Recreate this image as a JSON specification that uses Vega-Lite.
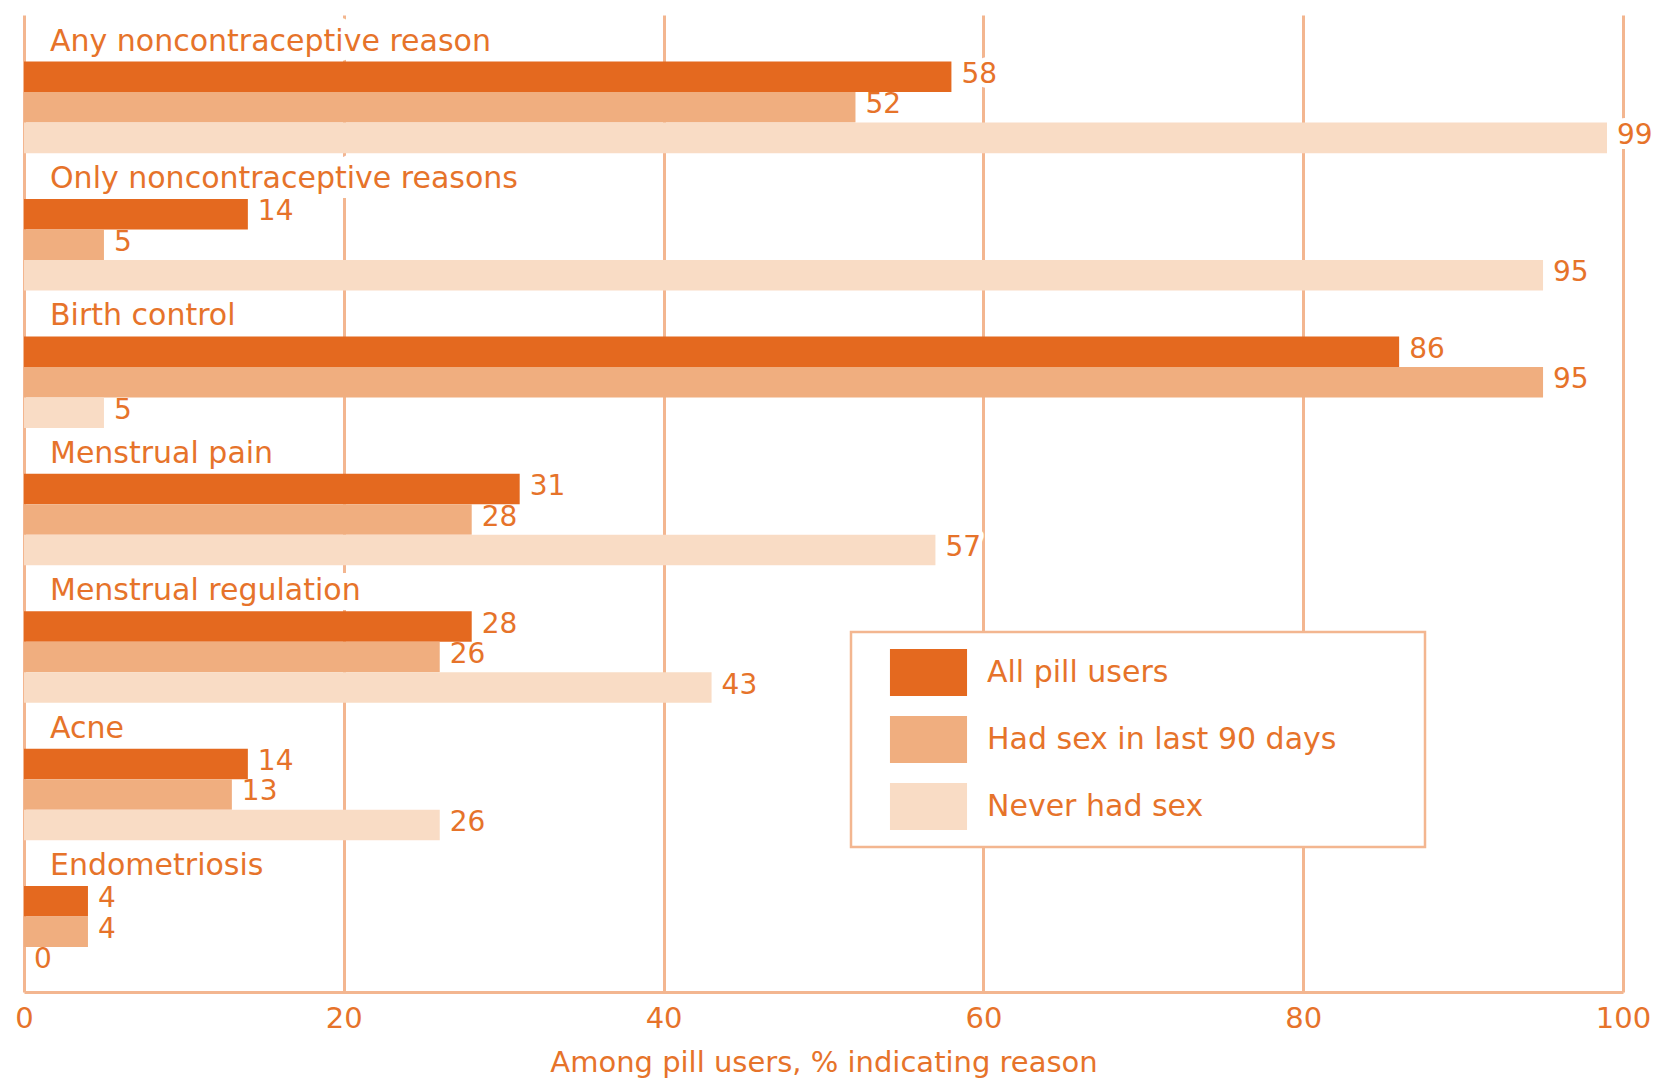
{
  "$schema": "https://vega.github.io/schema/vega-lite/v6.json",
  "width": 1599,
  "height": 977,
  "autosize": {"type": "none"},
  "padding": {"left": 24, "top": 15, "right": 38, "bottom": 86},
  "background": "white",
  "config": {
    "view": {"stroke": null},
    "font": "DejaVu Sans",
    "scale": {"offsetBandPaddingInner": 0, "offsetBandPaddingOuter": 0},
    "axisX": {
      "grid": true,
      "gridColor": "#F3B690",
      "gridWidth": 3,
      "domainColor": "#F3B690",
      "domainWidth": 3,
      "ticks": false,
      "labelColor": "#E6732A",
      "labelFontSize": 29,
      "labelPadding": 12,
      "labelFlush": false,
      "titleColor": "#E6732A",
      "titleFontSize": 29,
      "titleFontWeight": "normal",
      "titlePadding": 15
    },
    "legend": {
      "orient": "none",
      "legendX": 827,
      "legendY": 617,
      "padding": 17,
      "strokeColor": "#F3B690",
      "strokeWidth": 2.5,
      "fillColor": "white",
      "symbolType": "M-1.64,-1H1.64V1H-1.64Z M20.4,0",
      "symbolSize": 2209,
      "symbolOpacity": 1,
      "symbolStrokeWidth": 0,
      "symbolOffset": 37,
      "labelFontSize": 30,
      "labelColor": "#E6732A",
      "labelOffset": 35,
      "rowPadding": 20,
      "labelLimit": 0
    }
  },
  "data": {
    "values": [
      {"reason": "Any noncontraceptive reason", "group": "All pill users", "value": 58},
      {"reason": "Any noncontraceptive reason", "group": "Had sex in last 90 days", "value": 52},
      {"reason": "Any noncontraceptive reason", "group": "Never had sex", "value": 99},
      {"reason": "Only noncontraceptive reasons", "group": "All pill users", "value": 14},
      {"reason": "Only noncontraceptive reasons", "group": "Had sex in last 90 days", "value": 5},
      {"reason": "Only noncontraceptive reasons", "group": "Never had sex", "value": 95},
      {"reason": "Birth control", "group": "All pill users", "value": 86},
      {"reason": "Birth control", "group": "Had sex in last 90 days", "value": 95},
      {"reason": "Birth control", "group": "Never had sex", "value": 5},
      {"reason": "Menstrual pain", "group": "All pill users", "value": 31},
      {"reason": "Menstrual pain", "group": "Had sex in last 90 days", "value": 28},
      {"reason": "Menstrual pain", "group": "Never had sex", "value": 57},
      {"reason": "Menstrual regulation", "group": "All pill users", "value": 28},
      {"reason": "Menstrual regulation", "group": "Had sex in last 90 days", "value": 26},
      {"reason": "Menstrual regulation", "group": "Never had sex", "value": 43},
      {"reason": "Acne", "group": "All pill users", "value": 14},
      {"reason": "Acne", "group": "Had sex in last 90 days", "value": 13},
      {"reason": "Acne", "group": "Never had sex", "value": 26},
      {"reason": "Endometriosis", "group": "All pill users", "value": 4},
      {"reason": "Endometriosis", "group": "Had sex in last 90 days", "value": 4},
      {"reason": "Endometriosis", "group": "Never had sex", "value": 0}
    ]
  },
  "layer": [
    {
      "description": "white halo behind category labels so gridlines break around them",
      "transform": [{"filter": "datum.group === 'All pill users'"}],
      "mark": {"type": "text", "align": "left", "baseline": "alphabetic", "dx": 26, "dy": -11, "fontSize": 30, "fill": "white", "stroke": "white", "strokeWidth": 20, "strokeJoin": "round"},
      "encoding": {
        "x": {"datum": 0, "type": "quantitative", "scale": {"domain": [0, 100], "nice": false}, "title": "Among pill users, % indicating reason"},
        "y": {"field": "reason", "type": "nominal", "sort": null, "bandPosition": 0, "axis": null,
              "scale": {"paddingInner": 0.334, "paddingOuter": 0.222, "align": 0.764}},
        "text": {"field": "reason"}
      }
    },
    {
      "description": "white halo behind value labels",
      "mark": {"type": "text", "align": "left", "baseline": "middle", "dx": 10, "dy": -2, "fontSize": 28, "fill": "white", "stroke": "white", "strokeWidth": 10, "strokeJoin": "round"},
      "encoding": {
        "x": {"field": "value", "type": "quantitative", "title": "Among pill users, % indicating reason"},
        "y": {"field": "reason", "type": "nominal", "sort": null, "axis": null},
        "yOffset": {"field": "group", "type": "nominal", "sort": null},
        "text": {"field": "value"}
      }
    },
    {
      "mark": {"type": "bar"},
      "encoding": {
        "x": {"field": "value", "type": "quantitative", "title": "Among pill users, % indicating reason",
              "axis": {"values": [0, 20, 40, 60, 80, 100]}},
        "y": {"field": "reason", "type": "nominal", "sort": null, "axis": null},
        "yOffset": {"field": "group", "type": "nominal", "sort": null},
        "color": {"field": "group", "type": "nominal", "title": null,
                  "scale": {"domain": ["All pill users", "Had sex in last 90 days", "Never had sex"],
                            "range": ["#E4691F", "#F0AE7F", "#F9DCC5"]}}
      }
    },
    {
      "transform": [{"filter": "datum.group === 'All pill users'"}],
      "mark": {"type": "text", "align": "left", "baseline": "alphabetic", "dx": 26, "dy": -11, "fontSize": 30, "fill": "#E6732A"},
      "encoding": {
        "x": {"datum": 0, "type": "quantitative", "title": "Among pill users, % indicating reason"},
        "y": {"field": "reason", "type": "nominal", "sort": null, "bandPosition": 0, "axis": null},
        "text": {"field": "reason"}
      }
    },
    {
      "mark": {"type": "text", "align": "left", "baseline": "middle", "dx": 10, "dy": -2, "fontSize": 28, "fill": "#E6732A"},
      "encoding": {
        "x": {"field": "value", "type": "quantitative", "title": "Among pill users, % indicating reason"},
        "y": {"field": "reason", "type": "nominal", "sort": null, "axis": null},
        "yOffset": {"field": "group", "type": "nominal", "sort": null},
        "text": {"field": "value"}
      }
    }
  ]
}
